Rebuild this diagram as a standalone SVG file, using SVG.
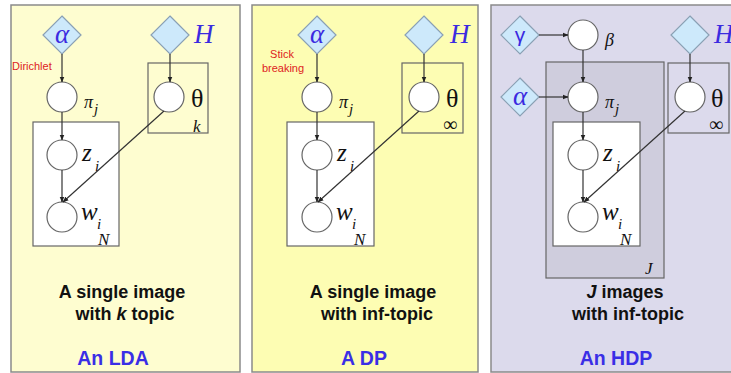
<svg xmlns="http://www.w3.org/2000/svg" width="731" height="373" viewBox="0 0 731 373">
<defs>
<marker id="ah" viewBox="0 0 10 10" refX="9" refY="5" markerWidth="6" markerHeight="6" orient="auto" markerUnits="userSpaceOnUse">
<path d="M0,1 L10,5 L0,9 z" fill="#222"/>
</marker>
<style>
.panel{stroke:#8a8a8a;stroke-width:1.5}
.plate{fill:none;stroke:#666;stroke-width:1.2}
.wplate{fill:#fff;stroke:#666;stroke-width:1.2}
.node{fill:#fff;stroke:#666;stroke-width:1.2}
.dia{fill:#cde9fb;stroke:#8aa0b4;stroke-width:1.2}
.edge{stroke:#333;stroke-width:1.2;fill:none;marker-end:url(#ah)}
.greek{font-family:"Liberation Serif","DejaVu Serif",serif;font-style:italic;fill:#3b2be0;font-size:27px}
.var{font-family:"Liberation Serif","DejaVu Serif",serif;font-style:italic;fill:#111;font-size:25px}
.sub{font-family:"Liberation Serif","DejaVu Serif",serif;font-style:italic;fill:#111;font-size:15px}
.pi{font-family:"Liberation Serif","DejaVu Serif",serif;font-style:italic;fill:#111;font-size:18px}
.theta{font-family:"Liberation Serif","DejaVu Serif",serif;fill:#111;font-size:26px}
.idx{font-family:"Liberation Serif","DejaVu Serif",serif;font-style:italic;fill:#111;font-size:17px}
.inf{font-family:"Liberation Serif","DejaVu Serif",serif;fill:#111;font-size:20px}
.cap{font-family:"Liberation Sans",Arial,sans-serif;font-weight:bold;fill:#111;font-size:18px;text-anchor:middle}
.title{font-family:"Liberation Sans",Arial,sans-serif;font-weight:bold;fill:#3a2ee6;font-size:19.5px;text-anchor:middle}
.red{font-family:"Liberation Sans",Arial,sans-serif;fill:#dd2222;font-size:11px}
</style>
</defs>

<g id="panels">
<rect class="panel" x="11" y="5" width="229" height="367" fill="#fefdd0"/>
<rect class="panel" x="252" y="5" width="226" height="367" fill="#fdfdb3"/>
<rect class="panel" x="491" y="5" width="245" height="367" fill="#dcdaec"/>
</g>

<!-- Panel 1: LDA -->
<g id="lda-plates">
<rect class="wplate" x="33" y="122" width="86" height="124"/>
<rect class="plate" x="148" y="63" width="60" height="70"/>
</g>
<g id="lda-alpha"><polygon class="dia" points="62,16 81,35 62,54 43,35"/><text class="greek" x="62" y="43" text-anchor="middle">α</text></g>
<g id="lda-H"><polygon class="dia" points="170,16 189,35 170,54 151,35"/><text class="greek" x="194" y="43">H</text></g>
<g id="lda-pi"><circle class="node" cx="62" cy="97" r="15"/><text class="pi" x="84" y="108">π</text><text class="sub" x="94" y="114" font-size="10">j</text></g>
<g id="lda-theta"><circle class="node" cx="169" cy="97" r="15"/><text class="theta" x="191" y="107">θ</text><text class="idx" x="193" y="132">k</text></g>
<g id="lda-z"><circle class="node" cx="62" cy="155" r="15"/><text class="var" x="82" y="161">z</text><text class="sub" x="95" y="171">i</text></g>
<g id="lda-w"><circle class="node" cx="62" cy="217" r="15"/><text class="var" x="81" y="220">w</text><text class="sub" x="97" y="229">i</text><text class="idx" x="98" y="245">N</text></g>
<text class="red" x="12" y="70">Dirichlet</text>
<text class="cap" x="122" y="298">A single image</text>
<text class="cap" x="125" y="320">with <tspan font-style="italic">k</tspan> topic</text>
<text class="title" x="113" y="365">An LDA</text>

<!-- Panel 2: DP -->
<g id="dp-plates">
<rect class="wplate" x="287" y="122" width="87" height="124"/>
<rect class="plate" x="402" y="63" width="61" height="70"/>
</g>
<g id="dp-alpha"><polygon class="dia" points="317,16 336,35 317,54 298,35"/><text class="greek" x="317" y="43" text-anchor="middle">α</text></g>
<g id="dp-H"><polygon class="dia" points="424,16 443,35 424,54 405,35"/><text class="greek" x="450" y="43">H</text></g>
<g id="dp-pi"><circle class="node" cx="317" cy="97" r="15"/><text class="pi" x="339" y="108">π</text><text class="sub" x="349" y="114" font-size="10">j</text></g>
<g id="dp-theta"><circle class="node" cx="424" cy="97" r="15"/><text class="theta" x="446" y="107">θ</text><text class="inf" x="443" y="131">∞</text></g>
<g id="dp-z"><circle class="node" cx="317" cy="155" r="15"/><text class="var" x="337" y="161">z</text><text class="sub" x="350" y="171">i</text></g>
<g id="dp-w"><circle class="node" cx="317" cy="217" r="15"/><text class="var" x="336" y="220">w</text><text class="sub" x="352" y="229">i</text><text class="idx" x="354" y="245">N</text></g>
<text class="red" x="282" y="58" text-anchor="middle">Stick</text>
<text class="red" x="283" y="72" text-anchor="middle">breaking</text>
<text class="cap" x="373" y="298">A single image</text>
<text class="cap" x="377" y="320">with inf-topic</text>
<text class="title" x="364" y="365">A DP</text>

<!-- Panel 3: HDP -->
<g id="hdp-plates">
<rect x="546" y="62" width="118" height="216" fill="#cfcddd" stroke="#666" stroke-width="1.2"/>
<rect class="wplate" x="553" y="122" width="87" height="124"/>
<rect class="plate" x="668" y="63" width="61" height="70"/>
</g>
<g id="hdp-gamma"><polygon class="dia" points="520,16 539,35 520,54 501,35"/><text x="520" y="42" text-anchor="middle" font-family="Liberation Sans, sans-serif" font-size="21" fill="#3b2be0">γ</text></g>
<g id="hdp-beta"><circle class="node" cx="583" cy="35" r="15"/><text class="pi" x="605" y="46">β</text></g>
<g id="hdp-alpha"><polygon class="dia" points="520,78 539,97 520,116 501,97"/><text class="greek" x="520" y="105" text-anchor="middle">α</text></g>
<g id="hdp-H"><polygon class="dia" points="690,16 709,35 690,54 671,35"/><text class="greek" x="714" y="43">H</text></g>
<g id="hdp-pi"><circle class="node" cx="583" cy="97" r="15"/><text class="pi" x="605" y="108">π</text><text class="sub" x="615" y="114" font-size="10">j</text></g>
<g id="hdp-theta"><circle class="node" cx="690" cy="97" r="15"/><text class="theta" x="711" y="107">θ</text><text class="inf" x="709" y="131">∞</text></g>
<g id="hdp-z"><circle class="node" cx="583" cy="155" r="15"/><text class="var" x="603" y="161">z</text><text class="sub" x="616" y="171">i</text></g>
<g id="hdp-w"><circle class="node" cx="583" cy="217" r="15"/><text class="var" x="602" y="220">w</text><text class="sub" x="618" y="229">i</text><text class="idx" x="620" y="245">N</text></g>
<text class="idx" x="645" y="274">J</text>
<text class="cap" x="625" y="298"><tspan font-style="italic">J</tspan> images</text>
<text class="cap" x="628" y="320">with inf-topic</text>
<text class="title" x="616" y="365">An HDP</text>

<g id="connectors">
<line class="edge" x1="62" y1="54" x2="62" y2="82"/>
<line class="edge" x1="170" y1="54" x2="170" y2="82"/>
<line class="edge" x1="62" y1="112" x2="62" y2="140"/>
<line class="edge" x1="62" y1="170" x2="62" y2="202"/>
<line class="edge" x1="164" y1="111" x2="63" y2="202"/>

<line class="edge" x1="317" y1="54" x2="317" y2="82"/>
<line class="edge" x1="424" y1="54" x2="424" y2="82"/>
<line class="edge" x1="317" y1="112" x2="317" y2="140"/>
<line class="edge" x1="317" y1="170" x2="317" y2="202"/>
<line class="edge" x1="419" y1="111" x2="318" y2="202"/>

<line class="edge" x1="539" y1="35" x2="568" y2="35"/>
<line class="edge" x1="539" y1="97" x2="568" y2="97"/>
<line class="edge" x1="583" y1="50" x2="583" y2="82"/>
<line class="edge" x1="690" y1="54" x2="690" y2="82"/>
<line class="edge" x1="583" y1="112" x2="583" y2="140"/>
<line class="edge" x1="583" y1="170" x2="583" y2="202"/>
<line class="edge" x1="685" y1="111" x2="584" y2="202"/>
</g>
</svg>
